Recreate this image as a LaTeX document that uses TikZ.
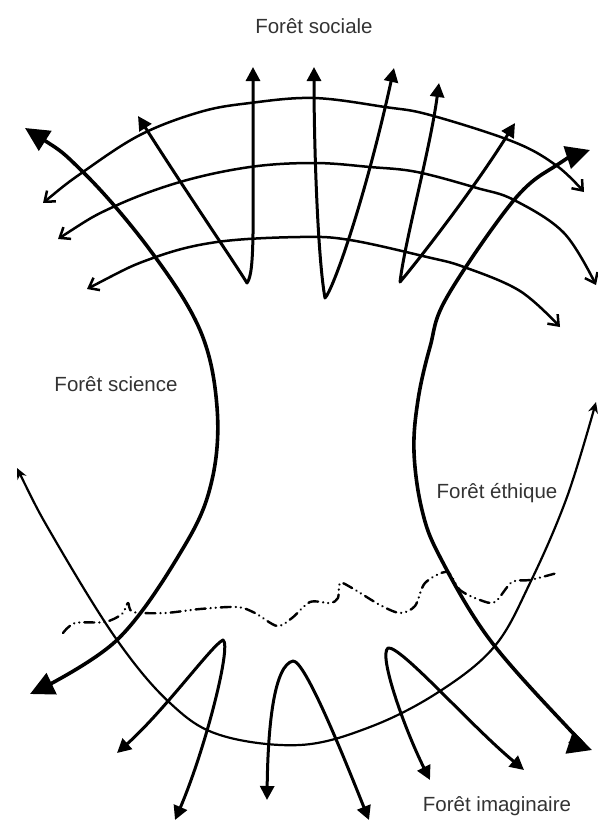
\documentclass[tikz,border=0pt]{standalone}
\usepackage{fontspec}
\setsansfont{Liberation Sans}
\usepackage{tikz}
\usetikzlibrary{arrows.meta}
\tikzset{
  every picture/.style={line cap=round, line join=round},
  lbl/.style={font=\sffamily\fontsize{20.5}{24}\selectfont, text=black!80, inner sep=0pt},
  heavy/.style={line width=3.6pt,
    {Triangle[length=24pt,width=23pt]}-{Triangle[length=24pt,width=23pt]}},
  vline/.style={line width=3pt,
    {Triangle[length=14pt,width=14pt]}-{Triangle[length=14pt,width=14pt]}},
  arcline/.style={line width=2.5pt,
    {Straight Barb[length=9pt,width=14pt]}-{Straight Barb[length=9pt,width=14pt]}},
  thinarc/.style={line width=2.2pt,
    {Stealth[length=11pt,width=10pt]}-{Stealth[length=11pt,width=10pt]}},
  border/.style={line width=2.4pt, dash pattern=on 10pt off 5pt on 0.1pt off 5pt on 0.1pt off 5pt},
}

\begin{document}
\begin{tikzpicture}[x=1pt, y=-1pt]
\useasboundingbox (0,0) rectangle (597,827);
% ------------------------------------------------------------- labels
\node[lbl] (sociale) at (314,26) {Forêt sociale};
\node[lbl] (science) at (116,384) {Forêt science};
\node[lbl] (ethique) at (497,493) {Forêt éthique};
\node[lbl] (imaginaire) at (497,806) {Forêt imaginaire};

% ------------------------------------------------------------- side curves
\draw[heavy] plot[smooth, tension=0.6] coordinates {(25,128) (83,172) (150,250)
  (200,330) (217,407) (212,480) (185,545) (117,640) (30,694)};
\draw[heavy] plot[smooth, tension=0.6] coordinates {(590,150) (557,165) (514,200)
  (447,297) (430,347) (418,400) (414,452) (422,510) (440,557) (490,640) (570,730)
  (592,750)};

% ------------------------------------------------------------- arcs at the top
\draw[arcline] plot[smooth, tension=0.6] coordinates {(43,203) (83,172) (140,135)
  (200,112) (250,103) (314,98) (385,107) (430,115) (514,142) (557,166) (584,192)};
\draw[arcline] plot[smooth, tension=0.6] coordinates {(58,239) (113,207) (180,182)
  (250,167) (314,163) (370,167) (417,172) (477,188) (514,200) (564,233) (596,285)};
\draw[arcline] plot[smooth, tension=0.6] coordinates {(87,289) (153,258) (217,242)
  (300,237) (350,240) (427,257) (464,267) (520,291) (560,327)};

% ------------------------------------------------------------- social arrows
\draw[vline] (138,116) .. controls (185,190) and (238,268) .. (247,283)
  .. controls (255,272) and (253,230) .. (253,67);
\draw[vline] (314,67) .. controls (314,150) and (318,260) .. (325,298)
  .. controls (333,290) and (365,200) .. (394,68);
\draw[vline] (439,83) .. controls (430,150) and (405,240) .. (400,282)
  .. controls (412,268) and (470,195) .. (515,123);

% ------------------------------------------------------------- imaginary arrows
\draw[vline] (117,753) .. controls (165,710) and (212,645) .. (223,640)
  .. controls (232,645) and (205,750) .. (175,820);
\draw[vline] (267,800) .. controls (268,720) and (275,665) .. (293,661)
  .. controls (305,660) and (345,760) .. (369,820);
\draw[vline] (430,780) .. controls (405,730) and (378,655) .. (388,648)
  .. controls (400,645) and (470,725) .. (524,770);

% ------------------------------------------------------------- lower arc
\draw[thinarc] plot[smooth, tension=0.6] coordinates {(17,468) (55,540) (117,640)
  (170,703) (220,735) (300,745) (370,727) (437,693) (494,647) (530,583) (567,497)
  (596,402)};

% ------------------------------------------------------------- boundary
\draw[border] plot[smooth, tension=0.5] coordinates {(63,633) (75,623) (105,622)
  (122,614) (128,603) (133,612) (165,613) (200,609) (237,607) (255,613) (277,626)
  (292,618) (310,602) (330,603) (338,598) (340,583) (352,588) (380,605) (400,613)
  (415,606) (425,583) (447,572) (460,590) (480,600) (495,602) (512,582) (530,580)
  (557,573)};
\end{tikzpicture}
\end{document}
